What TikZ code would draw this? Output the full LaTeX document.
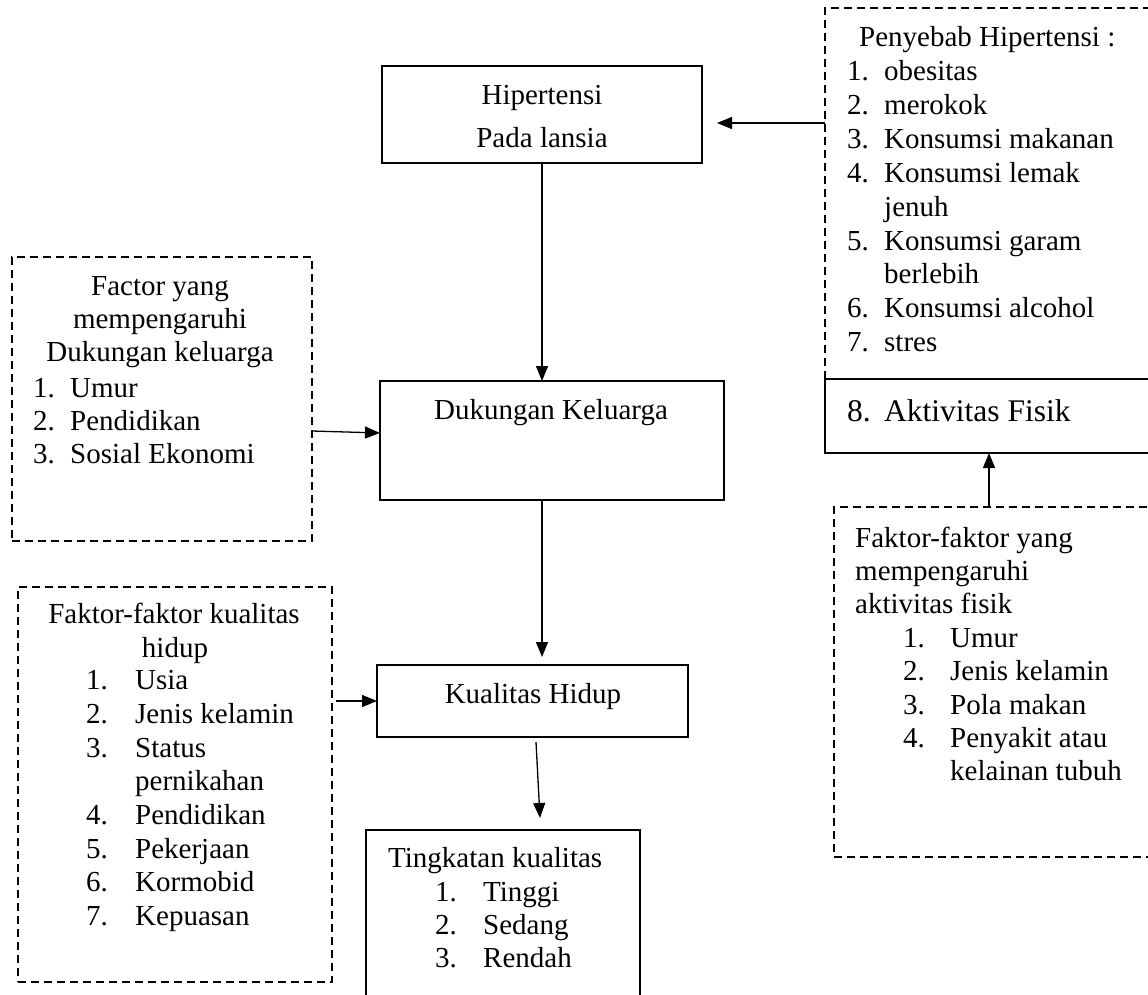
\documentclass[tikz,border=0pt]{standalone}
\usepackage{fontspec}
\setmainfont{Liberation Serif}
\usetikzlibrary{arrows.meta}
\tikzset{
  solidbox/.style={draw, line width=1.5pt, inner sep=0pt, outer sep=0pt},
  dashbox/.style={draw, line width=1.3pt, dash pattern=on 8pt off 5pt, inner sep=0pt, outer sep=0pt},
  arr/.style={line width=1.3pt, -{Triangle[length=15pt,width=12pt]}},
  txt/.style={font=\fontsize{29}{34}\selectfont, inner sep=0pt, anchor=base west},
  ctxt/.style={txt, anchor=base},
  bigtxt/.style={font=\fontsize{31.5}{36}\selectfont, inner sep=0pt, anchor=base west}
}
\begin{document}
\begin{tikzpicture}[x=1pt,y=-1pt]
\useasboundingbox (0,0) rectangle (1148,995);
\clip (0,0) rectangle (1148,995);
\fill[white] (0,0) rectangle (1148,995);

% boxes
\node[solidbox, minimum width=320pt, minimum height=97pt] (hip) at (542,114.5) {};
\node[dashbox, minimum width=335pt, minimum height=371pt] (peny) at (992.5,193.5) {};
\node[solidbox, fill=white, minimum width=335pt, minimum height=74pt] (akt) at (992.5,416) {};
\node[dashbox, minimum width=300pt, minimum height=284pt] (fdk) at (162,399) {};
\node[solidbox, minimum width=344pt, minimum height=119pt] (duk) at (552,440.5) {};
\node[solidbox, minimum width=311pt, minimum height=72pt] (kual) at (532.5,701) {};
\node[dashbox, minimum width=314pt, minimum height=395pt] (fkh) at (175,784.5) {};
\node[solidbox, minimum width=274pt, minimum height=180pt] (ting) at (503,920) {};
\node[dashbox, minimum width=326pt, minimum height=350pt] (faf) at (997,682) {};

% Hipertensi
\node[ctxt] (hip1) at (542,105) {Hipertensi};
\node[ctxt] (hip2) at (542,148) {Pada lansia};

% Penyebab
\node[txt] (p0) at (859,47) {Penyebab Hipertensi :};
\node[txt] (p1n) at (847,81) {1.};   \node[txt] (p1) at (884,81) {obesitas};
\node[txt] (p2n) at (847,114.8) {2.}; \node[txt] (p2) at (884,114.8) {merokok};
\node[txt] (p3n) at (847,148.6) {3.}; \node[txt] (p3) at (884,148.6) {Konsumsi makanan};
\node[txt] (p4n) at (847,182.4) {4.}; \node[txt] (p4) at (884,182.4) {Konsumsi lemak};
\node[txt] (p4b) at (884,216.2) {jenuh};
\node[txt] (p5n) at (847,250) {5.}; \node[txt] (p5) at (884,250) {Konsumsi garam};
\node[txt] (p5b) at (884,283.8) {berlebih};
\node[txt] (p6n) at (847,317.6) {6.}; \node[txt] (p6) at (884,317.6) {Konsumsi alcohol};
\node[txt] (p7n) at (847,351.4) {7.}; \node[txt] (p7) at (884,351.4) {stres};

% Aktivitas
\node[bigtxt] (a8n) at (847,421) {8.};
\node[bigtxt] (a8) at (884,421) {Aktivitas Fisik};

% Factor dukungan
\node[ctxt] (f1) at (160,295) {Factor yang};
\node[ctxt] (f2) at (160,328) {mempengaruhi};
\node[ctxt] (f3) at (160,361) {Dukungan keluarga};
\node[txt] (f4n) at (33,397) {1.}; \node[txt] (f4) at (70,397) {Umur};
\node[txt] (f5n) at (33,430) {2.}; \node[txt] (f5) at (70,430) {Pendidikan};
\node[txt] (f6n) at (33,463) {3.}; \node[txt] (f6) at (70,463) {Sosial Ekonomi};

% Dukungan / Kualitas
\node[ctxt] (dukt) at (551,419) {Dukungan Keluarga};
\node[ctxt] (kualt) at (533,703) {Kualitas Hidup};

% Faktor kualitas hidup
\node[ctxt] (k0) at (174,623) {Faktor-faktor kualitas};
\node[ctxt] (k0b) at (175,657) {hidup};
\node[txt] (k1n) at (86,689) {1.}; \node[txt] (k1) at (135,689) {Usia};
\node[txt] (k2n) at (86,723) {2.}; \node[txt] (k2) at (135,723) {Jenis kelamin};
\node[txt] (k3n) at (86,757) {3.}; \node[txt] (k3) at (135,757) {Status};
\node[txt] (k3b) at (135,790) {pernikahan};
\node[txt] (k4n) at (86,824) {4.}; \node[txt] (k4) at (135,824) {Pendidikan};
\node[txt] (k5n) at (86,858) {5.}; \node[txt] (k5) at (135,858) {Pekerjaan};
\node[txt] (k6n) at (86,891) {6.}; \node[txt] (k6) at (135,891) {Kormobid};
\node[txt] (k7n) at (86,925) {7.}; \node[txt] (k7) at (135,925) {Kepuasan};

% Tingkatan
\node[txt] (t0) at (388,867) {Tingkatan kualitas};
\node[txt] (t1n) at (435,901) {1.}; \node[txt] (t1) at (483,901) {Tinggi};
\node[txt] (t2n) at (435,934) {2.}; \node[txt] (t2) at (483,934) {Sedang};
\node[txt] (t3n) at (435,967) {3.}; \node[txt] (t3) at (483,967) {Rendah};

% Faktor aktivitas fisik
\node[txt] (g0) at (855,547) {Faktor-faktor yang};
\node[txt] (g0b) at (855,580) {mempengaruhi};
\node[txt] (g0c) at (855,613) {aktivitas fisik};
\node[txt] (g1n) at (903,647) {1.}; \node[txt] (g1) at (950,647) {Umur};
\node[txt] (g2n) at (903,680) {2.}; \node[txt] (g2) at (950,680) {Jenis kelamin};
\node[txt] (g3n) at (903,714) {3.}; \node[txt] (g3) at (950,714) {Pola makan};
\node[txt] (g4n) at (903,747) {4.}; \node[txt] (g4) at (950,747) {Penyakit atau};
\node[txt] (g4b) at (950,780) {kelainan tubuh};

% connectors
\draw[arr] ([yshift=-8.5pt]peny.west |- hip.east) -- ([xshift=15pt,yshift=-8.5pt]hip.east);
\draw[arr] (hip.south) -- (hip.south |- duk.north);
\draw[arr] (hip.south |- duk.south) -- ([yshift=8pt]hip.south |- kual.north);
\draw[arr] ([yshift=-32pt]fdk.east) -- ([yshift=7.5pt]duk.west);
\draw[arr] ([xshift=4pt]fkh.east |- kual.west) -- (kual.west);
\draw[arr] ([xshift=3.5pt,yshift=-5pt]kual.south) -- ([xshift=7.5pt,yshift=12pt]kual.south |- ting.north);
\draw[arr] ([xshift=-8pt]faf.north) -- ([xshift=-8pt]faf.north |- akt.south);
\end{tikzpicture}
\end{document}
